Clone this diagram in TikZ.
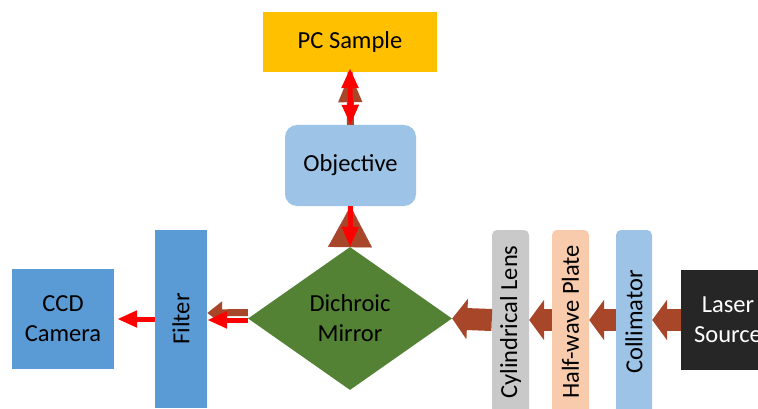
\documentclass[tikz,border=0pt]{standalone}
\usepackage{fontspec}
\setmainfont{Carlito}
\usetikzlibrary{shapes.geometric,arrows.meta}

\definecolor{jaune}{HTML}{FFC000}
\definecolor{bleuclair}{HTML}{9DC3E6}
\definecolor{bleu}{HTML}{5B9BD5}
\definecolor{vert}{HTML}{548235}
\definecolor{gris}{HTML}{C9C9C9}
\definecolor{peche}{HTML}{F8CBAD}
\definecolor{noir}{HTML}{262626}
\definecolor{brun}{RGB}{168,70,42}

\begin{document}
\begin{tikzpicture}[x=1pt,y=-1pt,
    bloc/.style={inner sep=0pt, align=center, font=\fontsize{24.5}{30}\selectfont},
    gros/.style={draw=brun, line width=22pt, -{Triangle[length=15pt,width=40pt]}},
    moyen/.style={draw=brun, line width=7pt, -{Triangle[length=#1,width=22pt]}},
    rouge/.style={draw=red, line width=5pt, -{Triangle[length=20pt,width=16pt]}}]
    \useasboundingbox (0,0) rectangle (758,409);

    % Blocs du montage
    \node[bloc, fill=jaune, minimum width=174pt, minimum height=60pt] (pc) at (350,42) {PC Sample};
    \node[bloc, fill=bleuclair, rounded corners=12pt, minimum width=131pt, minimum height=81pt] (obj) at (350.5,165.5) {Objective};
    \node[bloc, fill=vert, shape=diamond, aspect=1.43, minimum width=204pt, minimum height=143pt] (mir) at (350,318.5) {Dichroic\\Mirror};
    \node[bloc, fill=bleu, minimum width=52pt, minimum height=178pt] (filt) at (181,319) {\rotatebox{90}{Filter}};
    \node[bloc, fill=bleu, minimum width=102pt, minimum height=100pt] (cam) at (63,319) {CCD\\Camera};
    \node[bloc, fill=gris, rounded corners=5pt, minimum width=37pt, minimum height=184pt] (cyl) at (510.5,322) {\rotatebox{90}{Cylindrical Lens}};
    \node[bloc, fill=peche, rounded corners=5pt, minimum width=37pt, minimum height=184pt] (hwp) at (570.5,322) {\rotatebox{90}{Half-wave Plate}};
    \node[bloc, fill=bleuclair, rounded corners=5pt, minimum width=36pt, minimum height=184pt] (col) at (634,322) {\rotatebox{90}{Collimator}};
    \node[bloc, fill=noir, text=white, minimum width=94pt, minimum height=100pt] (laser) at (728,320) {Laser\\Source};

    % Faisceau laser (fleches brunes)
    \draw[gros] (laser.west) -- (col.east |- laser.west);
    \draw[gros] (col.west |- laser.west) -- (hwp.east |- laser.west);
    \draw[gros] (hwp.west |- laser.west) -- (cyl.east |- laser.west);
    \draw[gros] (cyl.west |- laser.west) -- (mir.east);
    \draw[moyen=15pt] ([yshift=6pt]mir.west) -- ([yshift=6pt]filt.east);
    \draw[draw=brun, -{Triangle[length=41pt,width=44pt]}] (mir.north) -- (obj.south);
    \draw[moyen=30pt] (obj.north) -- (pc.south);

    % Fluorescence (fleches rouges)
    \draw[rouge] (pc.south) -- (obj.north);
    \draw[draw=red, line width=5pt, -{Triangle[length=20pt,width=16pt]}] ([yshift=-4pt]pc.south) -- ([yshift=4pt]pc.south);
    \draw[rouge] (obj.south) -- (mir.north);
    \draw[rouge] ([yshift=-1.5pt]mir.west) -- ([yshift=-1pt]filt.east);
    \draw[rouge] (filt.west) -- ([xshift=3pt]cam.east);
\end{tikzpicture}
\end{document}
